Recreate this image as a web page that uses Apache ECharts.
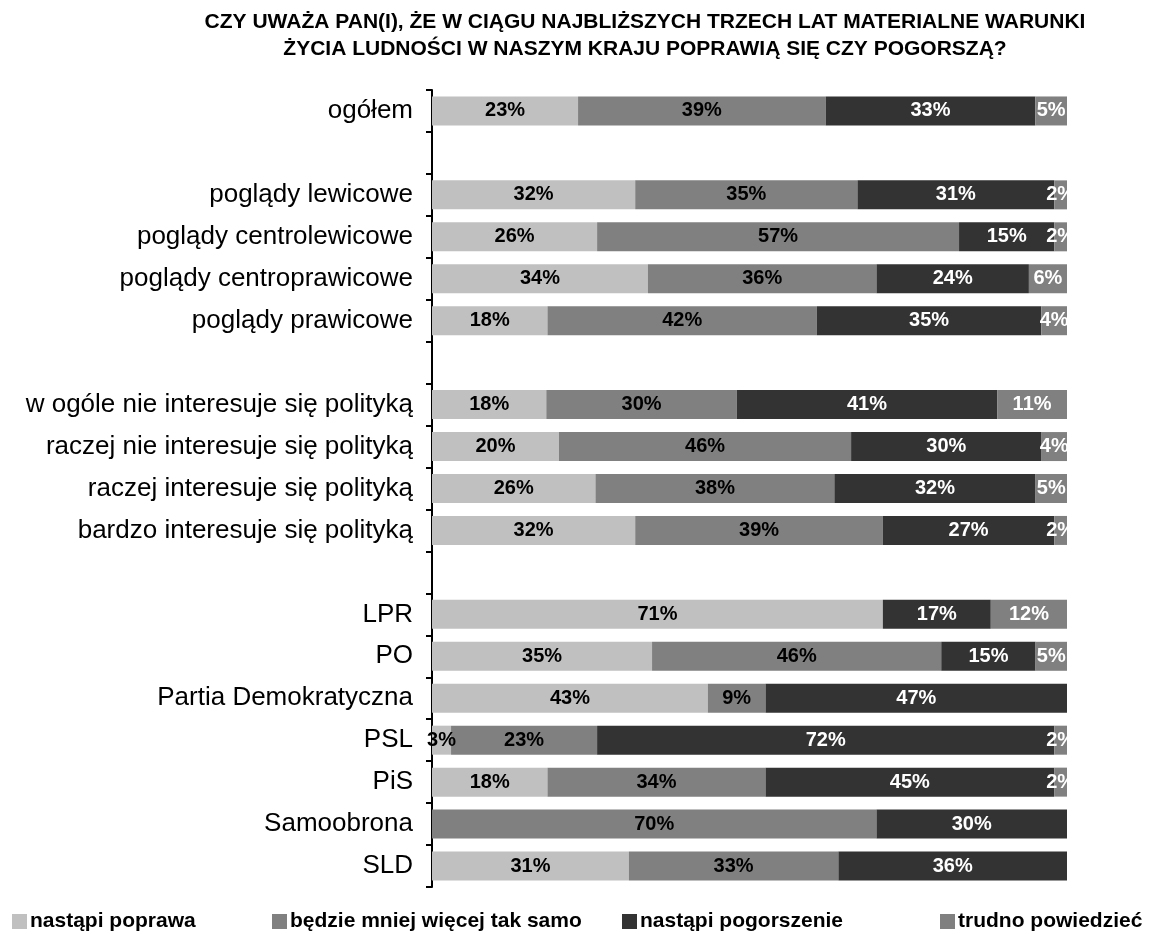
<!DOCTYPE html>
<html>
<head>
<meta charset="utf-8">
<script src="https://cdn.jsdelivr.net/npm/echarts@6/dist/echarts.min.js"></script>
<style>
  html, body { margin: 0; padding: 0; background: #fff; }
  #chart { width: 1152px; height: 934px; }
</style>
</head>
<body>
<div id="chart"></div>
<script>
// kategorie (puste wiersze = odstępy między grupami)
var categories = [
  'ogółem', ' ',
  'poglądy lewicowe', 'poglądy centrolewicowe', 'poglądy centroprawicowe', 'poglądy prawicowe', '  ',
  'w ogóle nie interesuje się polityką', 'raczej nie interesuje się polityką',
  'raczej interesuje się polityką', 'bardzo interesuje się polityką', '   ',
  'LPR', 'PO', 'Partia Demokratyczna', 'PSL', 'PiS', 'Samoobrona', 'SLD'
];
var seriesNames = ['nastąpi poprawa', 'będzie mniej więcej tak samo', 'nastąpi pogorszenie', 'trudno powiedzieć'];

var poprawa     = [23, null, 32, 26, 34, 18, null, 18, 20, 26, 32, null, 71, 35, 43, 3, 18, 0, 31];
var takSamo     = [39, null, 35, 57, 36, 42, null, 30, 46, 38, 39, null, 0, 46, 9, 23, 34, 70, 33];
var pogorszenie = [33, null, 31, 15, 24, 35, null, 41, 30, 32, 27, null, 17, 15, 47, 72, 45, 30, 36];
var trudno      = [5, null, 2, 2, 6, 4, null, 11, 4, 5, 2, null, 12, 5, 0, 2, 2, 0, 0];

var colors = ['#c0c0c0', '#808080', '#333333', '#808080'];
var labelColors = ['#000', '#000', '#fff', '#fff'];
var FONT = 'Arial, "Liberation Sans", sans-serif';

var raw = [poprawa, takSamo, pogorszenie, trudno];

// 100% skumulowane - normalizacja każdego wiersza
var totals = categories.map(function (c, i) {
  return raw.reduce(function (s, arr) { return s + (arr[i] || 0); }, 0);
});

var series = raw.map(function (arr, k) {
  return {
    name: seriesNames[k],
    type: 'bar',
    stack: 'all',
    barWidth: 29,
    itemStyle: { color: colors[k] },
    label: {
      show: true,
      position: 'inside',
      color: labelColors[k],
      fontFamily: FONT,
      fontWeight: 'bold',
      fontSize: 20,
      formatter: function (p) { return arr[p.dataIndex] ? arr[p.dataIndex] + '%' : ''; }
    },
    data: arr.map(function (v, i) {
      return v ? v / totals[i] * 100 : null;
    })
  };
});

var legendLeft = [7, 267, 617, 935];

var myChart = echarts.init(document.getElementById('chart'));
myChart.setOption({
  backgroundColor: '#fff',
  animation: false,
  title: {
    text: 'CZY UWAŻA PAN(I), ŻE W CIĄGU NAJBLIŻSZYCH TRZECH LAT MATERIALNE WARUNKI\nŻYCIA LUDNOŚCI W NASZYM KRAJU POPRAWIĄ SIĘ CZY POGORSZĄ?',
    left: 640,
    top: 4,
    textAlign: 'center',
    textStyle: {
      fontFamily: FONT,
      fontWeight: 'bold',
      fontSize: 21,
      lineHeight: 27,
      color: '#000'
    }
  },
  legend: seriesNames.map(function (n, k) {
    return {
      data: [n],
      left: legendLeft[k],
      top: 906,
      icon: 'rect',
      itemWidth: 15,
      itemHeight: 15,
      textStyle: { fontFamily: FONT, fontWeight: 'bold', fontSize: 21, color: '#000', padding: [0, 0, 0, -2] }
    };
  }),
  grid: { left: 432, right: 85, top: 90, bottom: 47 },
  xAxis: {
    type: 'value',
    min: 0,
    max: 100,
    show: false
  },
  yAxis: {
    type: 'category',
    inverse: true,
    data: categories,
    axisLine: { lineStyle: { color: '#000', width: 2 } },
    axisTick: { show: true, length: 6, lineStyle: { color: '#000', width: 2 } },
    axisLabel: { color: '#000', fontFamily: FONT, fontSize: 26, margin: 19 }
  },
  series: series
});
</script>
</body>
</html>
